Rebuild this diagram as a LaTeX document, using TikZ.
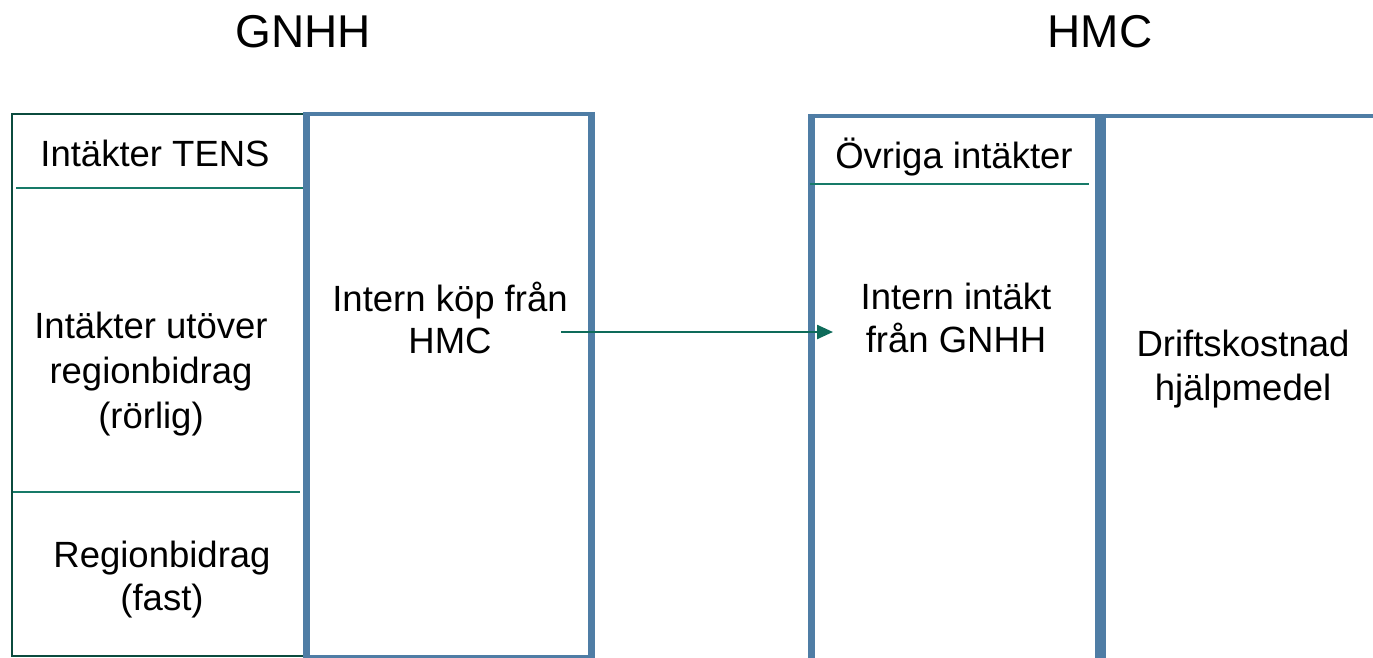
\documentclass[tikz,border=0pt]{standalone}
\usepackage{fontspec}
\setmainfont{Liberation Sans}
\usetikzlibrary{arrows.meta}
\definecolor{boxblue}{HTML}{4F7DA5}
\definecolor{darkgreen}{HTML}{0B4B3E}
\definecolor{sepgreen}{HTML}{177A68}
\definecolor{arrowgreen}{HTML}{0E6B5A}
\tikzset{
  title/.style={font=\fontsize{46}{50}\selectfont, inner sep=0, anchor=base},
  lbl/.style={inner sep=0, align=center},
  one/.style={font=\fontsize{36.5}{42}\selectfont, inner sep=0, anchor=base},
  vblue/.style={draw=boxblue, line width=7pt},
  hblue/.style={draw=boxblue, line width=4.4pt},
  sepline/.style={draw=sepgreen, line width=1.4pt},
  flow/.style={draw=arrowgreen, line width=2.4pt, -{Triangle[length=16pt,width=14pt]}}
}
\begin{document}
\begin{tikzpicture}[x=1pt,y=-1pt]
\useasboundingbox (0,0) rectangle (1373,658);
% titles
\node[title] (tG) at (303.5,48) {GNHH};
\node[title] (tH) at (1100,48) {HMC};
% left GNHH box (thin dark green)
\draw[darkgreen, line width=2pt] (304,113.7) -- (12,113.7) -- (12,656) -- (304,656);
\draw[sepline] (16,188) -- (304,188);
\draw[sepline] (13,492) -- (300,492);
% middle blue box
\draw[hblue] (303,114) -- (595.3,114);
\draw[hblue] (303,657) -- (595.3,657);
\draw[vblue] (306.5,111.8) -- (306.5,660);
\draw[vblue] (591.8,111.8) -- (591.8,660);
% right HMC box
\draw[hblue] (808,116) -- (1380,116);
\draw[vblue] (811.5,113.8) -- (811.5,665);
\draw[draw=boxblue, line width=11pt] (1100.5,113.8) -- (1100.5,665);
\draw[sepline] (810,184) -- (1089,184);
% texts
\node[one] (tens) at (155,166) {Intäkter TENS};
\node[lbl, font={\fontsize{36.5}{45}\selectfont}] (utover) at (151,373.7) {Intäkter utöver\\regionbidrag\\(rörlig)};
\node[lbl, font={\fontsize{36.5}{43}\selectfont}] (fast) at (162,579.3) {Regionbidrag\\(fast)};
\node[lbl, font={\fontsize{36.5}{42.5}\selectfont}] (kop) at (450,318) {Intern köp från\\HMC};
\node[one] (ovriga) at (954,168) {Övriga intäkter};
\node[lbl, font={\fontsize{36.5}{43}\selectfont}] (intakt) at (956,317.5) {Intern intäkt\\från GNHH};
\node[lbl, font={\fontsize{36.5}{44}\selectfont}] (drift) at (1243,368.6) {Driftskostnad\\hjälpmedel};
% arrow
\coordinate (aS) at (561,332);
\coordinate (aE) at (833,332);
\draw[flow] (aS) -- (aE);
\end{tikzpicture}
\end{document}
